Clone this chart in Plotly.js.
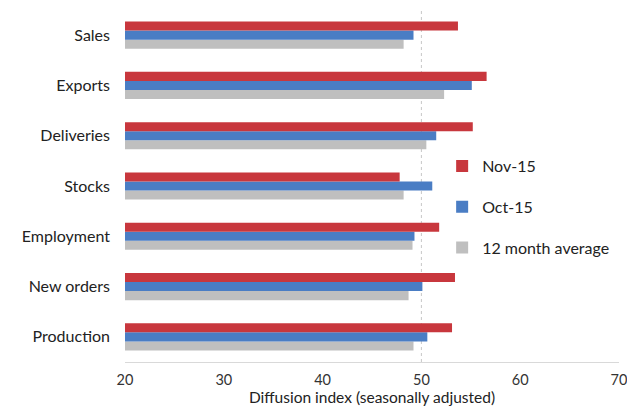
<!DOCTYPE html>
<html>
<head>
<meta charset="utf-8">
<script src="https://cdn.plot.ly/plotly-3.0.1.min.js"></script>
<style>
  html, body { margin: 0; padding: 0; background: #fff; }
  #chart { width: 627px; height: 407px; }
</style>
</head>
<body>
<div id="chart"></div>
<script>
// Survey components, listed bottom to top as Plotly stacks categories
const categories = ["Production", "New orders", "Employment", "Stocks", "Deliveries", "Exports", "Sales"];

// Diffusion index readings (seasonally adjusted)
const nov15 = [53.1, 53.4, 51.8, 47.8, 55.2, 56.6, 53.7];
const oct15 = [50.6, 50.1, 49.3, 51.1, 51.5, 55.1, 49.2];
const avg12 = [49.2, 48.7, 49.1, 48.2, 50.5, 52.3, 48.2];

const xTicks = [20, 30, 40, 50, 60, 70];

const font = "Lato, 'Open Sans', sans-serif";

function barTrace(name, values, color, group, rank) {
  return {
    type: "bar",
    orientation: "h",
    name: name,
    legendgroup: group,
    legendrank: rank,
    y: categories,
    x: values,
    marker: { color: color, line: { width: 0 } },
    hoverinfo: "x+y+name"
  };
}

// Within each group the first trace sits lowest, so the average goes first
const data = [
  barTrace("12 month average", avg12, "#bfbfbf", "c", 3),
  barTrace("Oct-15", oct15, "#4a7dc4", "b", 2),
  barTrace("Nov-15", nov15, "#c8373d", "a", 1)
];

const layout = {
  width: 627,
  height: 407,
  margin: { l: 125, r: 8, t: 10, b: 45 },
  paper_bgcolor: "#ffffff",
  plot_bgcolor: "#ffffff",
  font: { family: font, size: 14, color: "#333333" },
  barmode: "group",
  bargap: 0.46,
  bargroupgap: 0,
  showlegend: true,
  legend: {
    x: 0.642,
    y: 0.605,
    xanchor: "left",
    yanchor: "top",
    traceorder: "grouped",
    tracegroupgap: 17,
    font: { family: font, size: 16, color: "#222222" },
    bgcolor: "rgba(0,0,0,0)",
    itemwidth: 30
  },
  xaxis: {
    range: [20, 70],
    tickvals: xTicks,
    ticktext: xTicks.map(String),
    ticklabeloverflow: "allow",
    ticklabelstandoff: 5,
    showgrid: false,
    zeroline: false,
    showline: true,
    linecolor: "#d9d9d9",
    linewidth: 1,
    ticks: "",
    tickfont: { family: font, size: 14.5, color: "#333333" },
    title: {
      text: "Diffusion index (seasonally adjusted)",
      font: { family: font, size: 15.5, color: "#222222" },
      standoff: 3
    }
  },
  yaxis: {
    type: "category",
    categoryorder: "array",
    categoryarray: categories,
    showgrid: false,
    zeroline: false,
    showline: false,
    ticks: "",
    ticklabelstandoff: 14,
    tickfont: { family: font, size: 16, color: "#222222" }
  },
  shapes: [
    {
      // dotted reference line at the 50 no-change mark
      type: "line",
      xref: "x",
      yref: "paper",
      x0: 50, x1: 50,
      y0: 0, y1: 1,
      layer: "below",
      line: { color: "#c8c8c8", width: 1, dash: "dot" }
    }
  ]
};

Plotly.newPlot("chart", data, layout, { displayModeBar: false, staticPlot: true });
</script>
</body>
</html>
